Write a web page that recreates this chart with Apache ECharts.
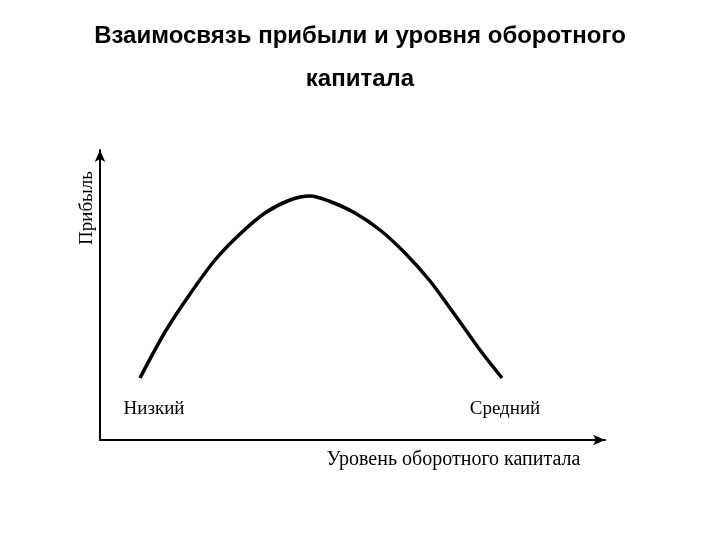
<!DOCTYPE html>
<html>
<head>
<meta charset="utf-8">
<script src="https://cdn.jsdelivr.net/npm/echarts@6/dist/echarts.min.js"></script>
<style>
  html, body { margin: 0; padding: 0; background: #fff; }
</style>
</head>
<body>
<div id="chart" style="width: 720px; height: 540px"></div>
<script>
// уровень оборотного капитала (условные единицы) и прибыль
var capitalLevel = [40, 65, 90, 115, 140, 165, 190, 210, 230, 255, 280, 305, 330, 355, 380, 402];
var profit = [62, 108, 146, 180, 206, 227, 240, 244, 238.5, 227, 210, 187, 159, 125, 90, 62];
var levelLabels = ["Низкий", "Средний"];

var chart = echarts.init(document.getElementById("chart"));

var points = capitalLevel.map(function (x, i) {
  return [x, profit[i]];
});
// подписи на краях кривой
points[0] = {
  value: points[0],
  label: { show: true, formatter: levelLabels[0], offset: [14, 46] }
};
points[points.length - 1] = {
  value: points[points.length - 1],
  label: { show: true, formatter: levelLabels[1], offset: [3, 46] }
};

var serif = "Liberation Serif";

var option = {
  animation: false,
  title: {
    text: "Взаимосвязь прибыли и уровня оборотного\nкапитала",
    left: "center",
    top: 15,
    padding: 0,
    textStyle: {
      fontFamily: "Liberation Sans",
      fontWeight: "bold",
      fontSize: 24,
      lineHeight: 43,
      color: "#000"
    }
  },
  grid: { left: 100, right: 115, top: 150, bottom: 100 },
  xAxis: {
    type: "value",
    min: 0,
    max: 505,
    name: "Уровень оборотного капитала",
    nameLocation: "middle",
    nameGap: 10,
    nameTextStyle: {
      fontFamily: serif,
      fontSize: 20,
      color: "#000",
      padding: [0, 0, 0, 202]
    },
    axisLine: {
      lineStyle: { color: "#000", width: 2 },
      symbol: ["none", "arrow"],
      symbolSize: [8, 12]
    },
    axisTick: { show: false },
    axisLabel: { show: false },
    splitLine: { show: false }
  },
  yAxis: {
    type: "value",
    min: 0,
    max: 290,
    name: "Прибыль",
    nameLocation: "middle",
    nameGap: 3,
    nameTextStyle: {
      fontFamily: serif,
      fontSize: 19,
      color: "#000",
      padding: [0, 0, 0, 174]
    },
    axisLine: {
      lineStyle: { color: "#000", width: 2 },
      symbol: ["none", "arrow"],
      symbolSize: [8, 12]
    },
    axisTick: { show: false },
    axisLabel: { show: false },
    splitLine: { show: false }
  },
  series: [
    {
      type: "line",
      data: points,
      smooth: 0.3,
      symbol: "circle",
      symbolSize: 0,
      showSymbol: true,
      lineStyle: { color: "#000", width: 3.5 },
      itemStyle: { color: "#000" },
      label: {
        show: false,
        fontFamily: serif,
        fontSize: 19,
        color: "#000"
      }
    }
  ]
};

chart.setOption(option);
</script>
</body>
</html>
